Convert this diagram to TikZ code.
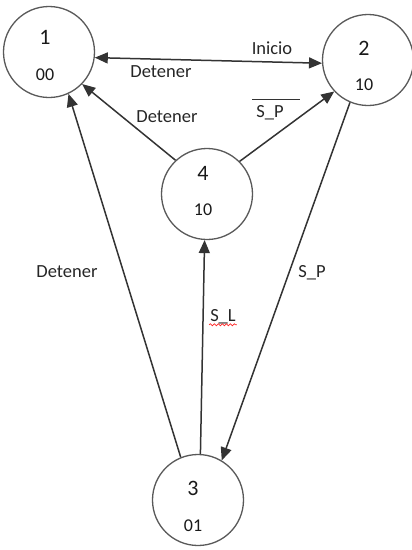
\documentclass[tikz,border=0pt]{standalone}
\usepackage{fontspec}
\setmainfont{Carlito}
\usetikzlibrary{arrows.meta,decorations.pathmorphing}

\begin{document}
\begin{tikzpicture}[x=1pt, y=-1pt,
    >={Triangle[length=13pt,width=11pt]},
    state/.style={circle, draw=black!65, line width=1.3pt, minimum size=91pt, inner sep=0pt},
    num/.style={font=\fontsize{22}{24}\selectfont, text=black!90},
    code/.style={font=\fontsize{18}{20}\selectfont, text=black!90},
    lbl/.style={font=\fontsize{18.5}{21}\selectfont, text=black!85, inner sep=1pt},
    trans/.style={draw=black!80, line width=1.5pt, ->}]
  \useasboundingbox (0,0) rectangle (412,550);

  % States
  \node[state] (s1) at (49,52) {};
  \node[state] (s2) at (368,60) {};
  \node[state] (s4) at (207,194) {};
  \node[state] (s3) at (198,500) {};

  % State numbers and codes
  \node[num] (n1) at (45,37) {1};
  \node[code] (c1) at (45,75) {00};
  \node[num] (n2) at (364,48) {2};
  \node[code] (c2) at (364,85) {10};
  \node[num] (n4) at (203,173) {4};
  \node[code] (c4) at (203,210) {10};
  \node[num] (n3) at (193,488) {3};
  \node[code] (c3) at (193,526) {01};

  % Transitions
  \draw[trans, <->] (s1.-7) -- (s2.184);
  \draw[trans] (s4.133) -- (s1.-44);
  \draw[trans] (s4.45) -- (s2.223);
  \draw[trans] (s2.247) -- (s3.59);
  \draw[trans] (s3.112) -- (s1.-65);
  \draw[trans] (s3.87) -- (s4.-93);

  % Labels
  \node[lbl] (lInicio) at (272,48) {Inicio};
  \node[lbl] (lDetTop) at (161,72) {Detener};
  \node[lbl] (lDetMid) at (167,117) {Detener};
  \node[lbl] (lSPbar) at (270,113) {S\_P};
  \draw[black!80, line width=0.7pt] ([xshift=-3pt,yshift=5pt]lSPbar.north west) -- ([xshift=15pt,yshift=5pt]lSPbar.north east);
  \node[lbl] (lDetLeft) at (67,272) {Detener};
  \node[lbl] (lSP) at (312,273) {S\_P};
  \node[lbl] (lSL) at (223,317) {S\_L};
  \draw[red!85, line width=0.7pt, decorate, decoration={snake, amplitude=1pt, segment length=4pt}]
    ([yshift=-3pt]lSL.base west) -- ([yshift=-3pt]lSL.base east);
\end{tikzpicture}
\end{document}
